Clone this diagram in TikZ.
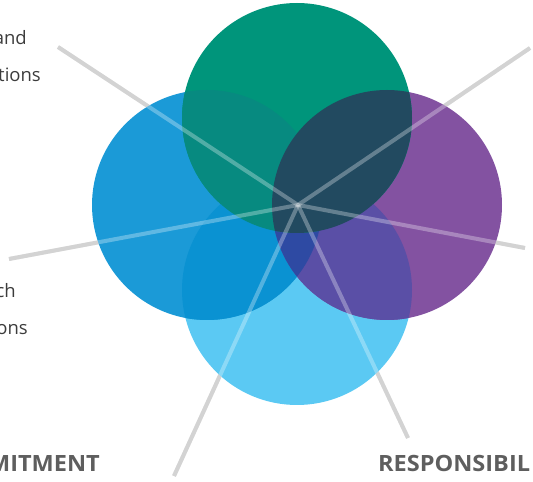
\documentclass[tikz,border=0pt]{standalone}
\usepackage{fontspec}
\setmainfont{Open Sans}
\usepackage{tikz}
\definecolor{cGreen}{HTML}{00957B}
\definecolor{cBlue}{HTML}{1B9AD7}
\definecolor{cPurple}{HTML}{8352A1}
\definecolor{cSky}{HTML}{5BC9F3}
\definecolor{cGreenBlue}{HTML}{078A80}
\definecolor{cGreenPurple}{HTML}{224A60}
\definecolor{cBlueSky}{HTML}{0A92D2}
\definecolor{cPurpleSky}{HTML}{5A4FA6}
\definecolor{cBluePurpleSky}{HTML}{2E4AA3}
\definecolor{cSpoke}{HTML}{C0C0C0}
\definecolor{cText}{HTML}{3C3C3C}
\definecolor{cHead}{HTML}{5E5E5E}

\begin{document}
\begin{tikzpicture}[x=1pt,y=1pt,
  spoke/.style={line width=4pt,draw=cSpoke},
  spokeglow/.style={line width=4pt,draw=white,draw opacity=.3},
  lbl/.style={inner sep=0pt,text=cText,font=\fontsize{18.5}{22}\selectfont},
  head/.style={inner sep=0pt,text=cHead,xscale=1.05,transform shape,
    font=\fontsize{22.4}{26}\selectfont\bfseries}]
\def\rad{115pt}
\useasboundingbox (0,0) rectangle (533,482);
\clip (0,0) rectangle (533,482);
%Circle Centres
\coordinate (Green) at (297,364);
\coordinate (Blue) at (207,277);
\coordinate (Purple) at (387,277);
\coordinate (Sky) at (297,192);
%Spoke Ends
\coordinate (Hub) at (298,277);
\coordinate (End1) at (58,435);
\coordinate (End2) at (530,434);
\coordinate (End3) at (9,223);
\coordinate (End4) at (525,234);
\coordinate (End5) at (174,6);
\coordinate (End6) at (408,44);
%Spokes under circles
\foreach \e in {1,...,6}
  \draw [spoke] (Hub) -- (End\e);
%Circles
\fill [cSky] (Sky) circle (\rad);
\fill [cBlue] (Blue) circle (\rad);
\fill [cPurple] (Purple) circle (\rad);
\fill [cGreen] (Green) circle (\rad);
%Overlaps
\begin{scope}
  \clip (Blue) circle (\rad);
  \fill [cBlueSky] (Sky) circle (\rad);
\end{scope}
\begin{scope}
  \clip (Purple) circle (\rad);
  \fill [cPurpleSky] (Sky) circle (\rad);
\end{scope}
\begin{scope}
  \clip (Blue) circle (\rad);
  \clip (Purple) circle (\rad);
  \fill [cBluePurpleSky] (Sky) circle (\rad);
\end{scope}
\begin{scope}
  \clip (Green) circle (\rad);
  \fill [cGreenBlue] (Blue) circle (\rad);
  \fill [cGreenPurple] (Purple) circle (\rad);
\end{scope}
%Spokes over circles
\foreach \e in {1,...,6}
  \draw [spokeglow] (Hub) -- (End\e);
%Labels
\node [lbl,anchor=base east] at (27,437) (Lbl1a) {and};
\node [lbl,anchor=base east] at (41,400) (Lbl1b) {tions};
\node [lbl,anchor=base east] at (16,184) (Lbl2a) {ch};
\node [lbl,anchor=base east] at (28,147) (Lbl2b) {ons};
\node [head,anchor=base east] at (100,10) (Head1) {MITMENT};
\node [head,anchor=base west] at (378,10) (Head2) {RESPONSIBIL};
\end{tikzpicture}
\end{document}
